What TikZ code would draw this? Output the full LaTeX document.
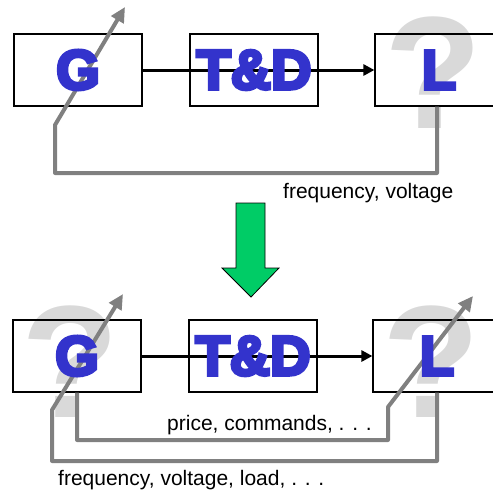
\documentclass[tikz,border=0pt]{standalone}
\usepackage{fontspec}
\setmainfont{Liberation Sans}
\newfontfamily\heavyfont[BoldFeatures={FakeBold=6}]{Liberation Sans}
\usetikzlibrary{arrows.meta,calc}
\definecolor{qgrey}{RGB}{217,217,217}
\definecolor{fgrey}{RGB}{128,128,128}
\definecolor{lblue}{RGB}{51,51,204}
\definecolor{darrow}{RGB}{0,204,102}
\begin{document}
\begin{tikzpicture}[x=1pt,y=-1pt,
 blockbox/.style={draw=black,line width=1.2pt,minimum width=128pt,minimum height=72pt,inner sep=0pt},
 letter/.style={text=lblue,font=\heavyfont\fontsize{56}{60}\selectfont\bfseries,inner sep=0pt},
 qmark/.style={text=qgrey,font=\fontsize{160}{160}\selectfont\bfseries,inner sep=0pt,anchor=base},
 flow/.style={draw=black,line width=3pt,-{Triangle[length=11pt,width=11pt]}},
 feedback/.style={draw=fgrey,line width=4pt,line join=round,-{Triangle[length=15pt,width=14pt]}},
 lbl/.style={font=\fontsize{21}{24}\selectfont,inner sep=0pt,anchor=base west}]
\useasboundingbox (0,0) rectangle (493,491);
% ---------- top ----------
\node[qmark] (q1) at (433,128) {?};
\node[blockbox] (G1) at (78,70) {};
\node[blockbox] (T1) at (254,70) {};
\node[blockbox] (L1) at (439,70) {};
\draw[flow] (G1.east) -- (L1.west);
\coordinate (tip1) at (125,7);
\draw[feedback] ($(L1.south)+(-2,0)$) -- (437,173) -- (55,173) -- (55,125) -- (tip1);
\node[letter] (g1) at (G1.center) {G};
\node[letter] (t1) at (T1.center) {T\&D};
\node[letter] (l1) at (L1.center) {L};
\node[lbl] (lab1) at (283,198) {frequency, voltage};
% ---------- green arrow ----------
\filldraw[fill=darrow,draw=black,line width=0.8pt,line join=miter]
 (236,203) -- (265,203) -- (265,268) -- (279,268) -- (251,297) -- (222,268) -- (236,268) -- cycle;
% ---------- bottom ----------
\node[qmark] (q2) at (70,417) {?};
\node[qmark] (q3) at (431,417) {?};
\node[blockbox] (G2) at (77,356) {};
\node[blockbox] (T2) at (253,356) {};
\node[blockbox] (L2) at (437,356) {};
\draw[flow] (G2.east) -- (L2.west);
\coordinate (tip2) at (123,294);
\coordinate (tip3) at (473,296);
\draw[feedback] (L2.south) -- (437,461) -- (52,461) -- (52,410) -- (tip2);
\draw[feedback] (G2.south) -- (77,440) -- (388,440) -- (388,407) -- (tip3);
\node[letter] (g2) at (G2.center) {G};
\node[letter] (t2) at (T2.center) {T\&D};
\node[letter] (l2) at (L2.center) {L};
\node[lbl] (lab2) at (167,430) {price, commands, . . .};
\node[lbl] (lab3) at (58,485) {frequency, voltage, load, . . .};
\end{tikzpicture}
\end{document}
